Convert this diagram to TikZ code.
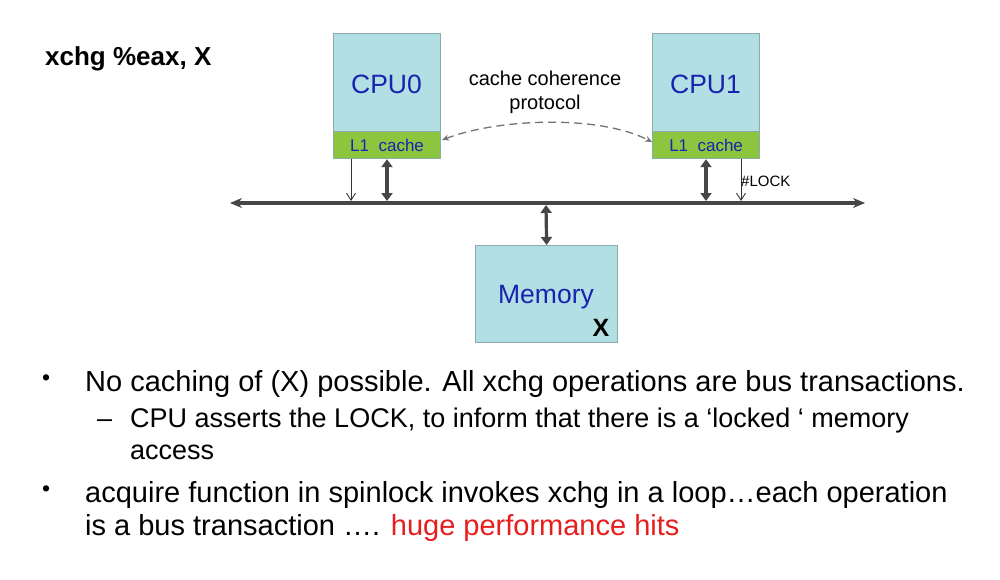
\documentclass[tikz,border=0pt]{standalone}
\usepackage{fontspec}
\setmainfont{Liberation Sans}
\usetikzlibrary{arrows.meta}
\definecolor{boxfill}{RGB}{178,223,228}
\definecolor{boxline}{RGB}{140,170,170}
\definecolor{cachegreen}{RGB}{140,198,63}
\definecolor{cpublue}{RGB}{25,35,175}
\definecolor{busgray}{RGB}{70,70,70}
\definecolor{hitred}{RGB}{230,30,30}
\begin{document}
\begin{tikzpicture}[x=1pt,y=-1pt,
  unitbox/.style={draw=boxline,line width=1.2pt,fill=boxfill,minimum width=107pt,minimum height=125pt,anchor=north west,inner sep=0pt},
  cachebar/.style={fill=cachegreen,draw=boxline,line width=1.2pt,minimum width=107pt,minimum height=27pt,anchor=north west,inner sep=0pt,text=cpublue,font=\fontsize{17}{19}\selectfont},
  thin/.style={-{Straight Barb[length=7pt,width=9pt]},line width=0.9pt,black!80},
  thick/.style={{Triangle[length=8pt,width=11pt]}-{Triangle[length=8pt,width=11pt]},line width=3.2pt,busgray},
  bodytext/.style={anchor=base west,inner sep=0pt,font=\fontsize{29}{33}\selectfont},
  subtext/.style={anchor=base west,inner sep=0pt,font=\fontsize{27}{31}\selectfont},
  dotmark/.style={anchor=base west,inner sep=0pt,font=\fontsize{23}{25}\selectfont}]
\useasboundingbox (0,0) rectangle (1000,580);
\fill[white] (0,0) rectangle (1000,580);
% title
\node[anchor=base west,inner sep=0pt,font=\bfseries\fontsize{26}{30}\selectfont] (title) at (45,66) {xchg \%eax, X};
% CPUs
\node[unitbox] (cpu0) at (333,33) {};
\node[cachebar] (c0) at (333,131) {L1\ \ cache};
\node[font=\fontsize{26.5}{30}\selectfont,text=cpublue] (t0) at (386.5,84) {CPU0};
\node[unitbox] (cpu1) at (652,33) {};
\node[cachebar] (c1) at (652,131) {L1\ \ cache};
\node[font=\fontsize{26.5}{30}\selectfont,text=cpublue] (t1) at (705.5,84) {CPU1};
% coherence text
\node[align=center,font=\fontsize{20}{24}\selectfont] (coh) at (545,92) {cache coherence\\protocol};
% bus
\coordinate (busL) at (230,203);
\coordinate (busR) at (865,203);
\draw[{Stealth[length=12pt,width=10pt]}-{Stealth[length=12pt,width=10pt]},line width=3.2pt,busgray] (busL) -- (busR);
% coherence arrow
\coordinate (arcA) at (652,142);
\coordinate (arcB) at (442,140);
\draw[{Stealth[length=7pt,width=6pt]}-{Stealth[length=7pt,width=6pt]},dashed,dash pattern=on 8pt off 5pt,line width=1.3pt,black!55] (arcB) .. controls (500,118) and (600,115) .. (arcA);
% CPU0 connectors
\coordinate (b0a) at (351,201);
\coordinate (b0b) at (387,201);
\draw[thin] (c0.south -| b0a) -- (b0a);
\draw[thick] (c0.south -| b0b) -- (b0b);
% CPU1 connectors
\coordinate (b1a) at (706,201);
\coordinate (b1b) at (741,201);
\draw[thick] (c1.south -| b1a) -- (b1a);
\draw[thin] (c1.south -| b1b) -- (b1b);
\node[anchor=west,inner sep=0pt,font=\fontsize{15}{17}\selectfont] (lock) at (741,181) {\#LOCK};
% Memory
\node[draw=boxline,line width=1.2pt,fill=boxfill,minimum width=142pt,minimum height=97pt,anchor=north west,inner sep=0pt] (mem) at (475,245) {};
\node[font=\fontsize{26.5}{30}\selectfont,text=cpublue] (memt) at (546,297) {Memory};
\node[font=\bfseries\fontsize{25}{28}\selectfont] (memx) at (601,328) {X};
\coordinate (bm) at (546,205);
\draw[thick] (bm) -- (mem.north);
% bullets
\node[dotmark] (d1) at (42,385) {•};
\node[bodytext] (l1) at (85,391) {No caching of (X) possible. All xchg operations are bus transactions.};
\node[subtext] (d2) at (97,427) {–};
\node[subtext] (l2) at (130,427) {CPU asserts the LOCK, to inform that there is a ‘locked ‘ memory};
\node[subtext] (l3) at (130,459) {access};
\node[dotmark] (d3) at (42,496) {•};
\node[bodytext] (l4) at (85,502) {acquire function in spinlock invokes xchg in a loop…each operation};
\node[bodytext] (l5) at (85,535) {is a bus transaction …. \textcolor{hitred}{huge performance hits}};
\end{tikzpicture}
\end{document}
